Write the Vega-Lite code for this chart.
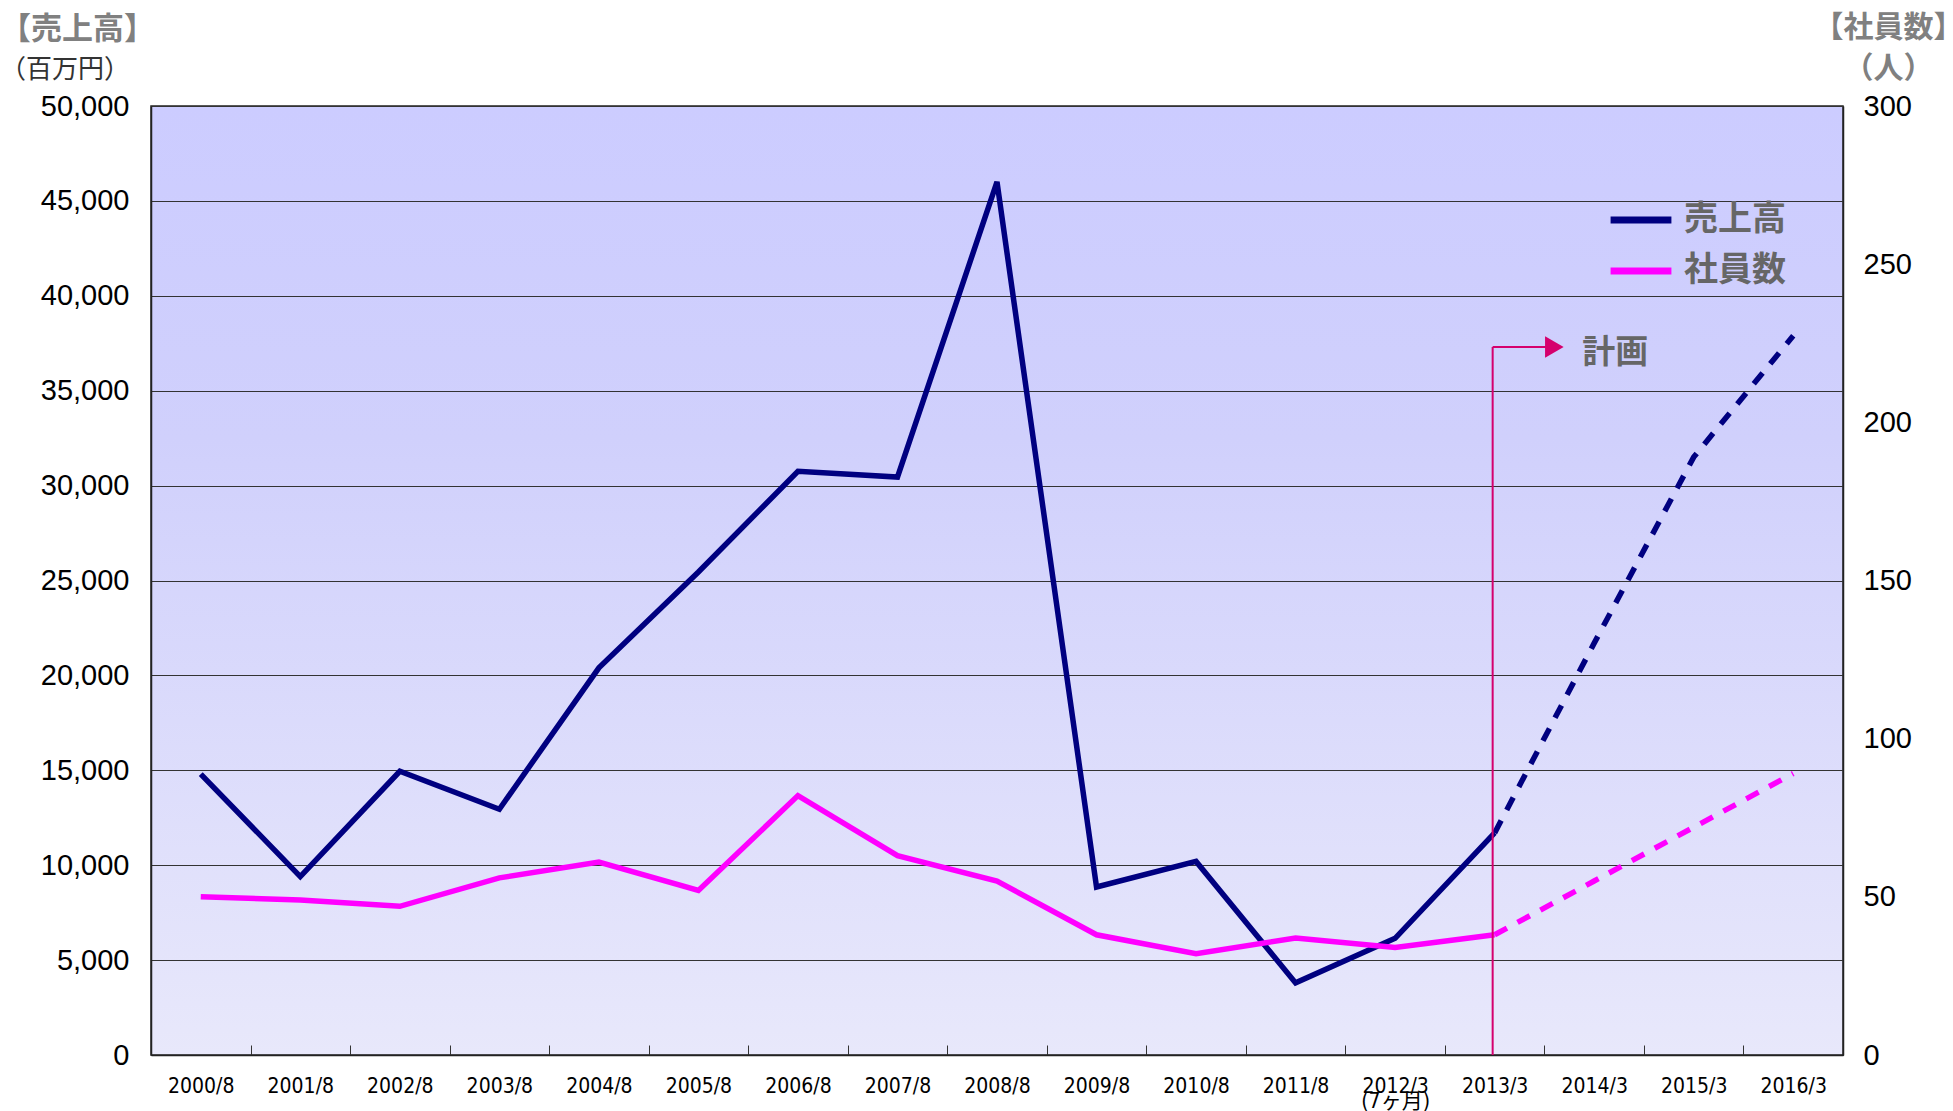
{
  "$schema": "https://vega.github.io/schema/vega-lite/v6.json",
  "width": 1692,
  "height": 949,
  "autosize": "none",
  "padding": {"left": 151, "top": 106, "right": 110, "bottom": 56},
  "background": "white",
  "title": {
    "text": "【売上高】",
    "subtitle": "（百万円）",
    "anchor": "start",
    "frame": "group",
    "dx": -151,
    "dy": 82,
    "font": "Noto Sans CJK JP",
    "fontSize": 31,
    "fontWeight": "bold",
    "color": "#808080",
    "subtitleFont": "Noto Sans CJK JP",
    "subtitleFontSize": 26,
    "subtitleColor": "#333333",
    "subtitlePadding": 11,
    "offset": 10
  },
  "view": {
    "fill": {
      "gradient": "linear",
      "x1": 0, "y1": 0, "x2": 0, "y2": 1,
      "stops": [
        {"offset": 0, "color": "#CCCCFF"},
        {"offset": 0.35, "color": "#D0D0FC"},
        {"offset": 1, "color": "#E8E8FB"}
      ]
    },
    "stroke": "#222222",
    "strokeWidth": 1.5
  },
  "datasets": {
    "main": [
      {"period": "2000/8", "series": "売上高", "value": 14800},
      {"period": "2001/8", "series": "売上高", "value": 9400},
      {"period": "2002/8", "series": "売上高", "value": 14950},
      {"period": "2003/8", "series": "売上高", "value": 12950},
      {"period": "2004/8", "series": "売上高", "value": 20400},
      {"period": "2005/8", "series": "売上高", "value": 25450},
      {"period": "2006/8", "series": "売上高", "value": 30750},
      {"period": "2007/8", "series": "売上高", "value": 30450},
      {"period": "2008/8", "series": "売上高", "value": 46000},
      {"period": "2009/8", "series": "売上高", "value": 8850},
      {"period": "2010/8", "series": "売上高", "value": 10200},
      {"period": "2011/8", "series": "売上高", "value": 3800},
      {"period": "2012/3", "series": "売上高", "value": 6150},
      {"period": "2013/3", "series": "売上高", "value": 11700},
      {"period": "2014/3", "series": "売上高", "value": 21700},
      {"period": "2015/3", "series": "売上高", "value": 31500},
      {"period": "2016/3", "series": "売上高", "value": 37900},
      {"period": "2000/8", "series": "社員数", "value": 50},
      {"period": "2001/8", "series": "社員数", "value": 49},
      {"period": "2002/8", "series": "社員数", "value": 47},
      {"period": "2003/8", "series": "社員数", "value": 56},
      {"period": "2004/8", "series": "社員数", "value": 61},
      {"period": "2005/8", "series": "社員数", "value": 52},
      {"period": "2006/8", "series": "社員数", "value": 82},
      {"period": "2007/8", "series": "社員数", "value": 63},
      {"period": "2008/8", "series": "社員数", "value": 55},
      {"period": "2009/8", "series": "社員数", "value": 38},
      {"period": "2010/8", "series": "社員数", "value": 32},
      {"period": "2011/8", "series": "社員数", "value": 37},
      {"period": "2012/3", "series": "社員数", "value": 34},
      {"period": "2013/3", "series": "社員数", "value": 38},
      {"period": "2014/3", "series": "社員数", "value": 55},
      {"period": "2015/3", "series": "社員数", "value": 72},
      {"period": "2016/3", "series": "社員数", "value": 89}
    ]
  },
  "layer": [
    {
      "data": {"name": "main"},
      "transform": [{"filter": {"field": "series", "equal": "売上高"}}],
      "encoding": {
        "x": {
          "field": "period", "type": "ordinal", "bandPosition": 0.5,
          "scale": {"type": "band", "paddingInner": 0, "paddingOuter": 0,
            "domain": ["2000/8","2001/8","2002/8","2003/8","2004/8","2005/8","2006/8","2007/8","2008/8","2009/8","2010/8","2011/8","2012/3","2013/3","2014/3","2015/3","2016/3"]},
          "axis": {
            "title": null, "grid": false, "tickBand": "extent", "ticks": true,
            "tickSize": -10, "tickColor": "#333333", "tickWidth": 1,
            "domainColor": "#222222", "domainWidth": 1.5,
            "labelAngle": 0, "labelOverlap": false,
            "labelFont": "Liberation Sans Narrow, DejaVu Sans Condensed, Noto Sans CJK JP",
            "labelFontSize": 21, "labelColor": "#000000", "labelPadding": 30,
            "labelBaseline": "top", "labelLineHeight": 15,
            "labelExpr": "datum.value == '2012/3' ? ['2012/3', '(7ヶ月)'] : datum.value"
          }
        },
        "y": {
          "field": "value", "type": "quantitative",
          "scale": {"domain": [0, 50000], "nice": false},
          "axis": {
            "orient": "left", "title": null,
            "values": [0,5000,10000,15000,20000,25000,30000,35000,40000,45000,50000],
            "format": ",.0f", "grid": true, "gridColor": "#333333", "gridWidth": 1,
            "ticks": false, "domain": true, "domainColor": "#222222", "domainWidth": 1.5,
            "labelFont": "Liberation Sans", "labelFontSize": 29, "labelColor": "#000000",
            "labelPadding": 22
          }
        },
        "color": {
          "field": "series", "type": "nominal",
          "scale": {"domain": ["売上高", "社員数"], "range": ["#000080", "#FF00FF"]},
          "legend": {
            "orient": "none", "legendX": 1456, "legendY": 80, "title": null,
            "symbolType": "stroke", "symbolStrokeWidth": 7, "symbolSize": 3700,
            "symbolDash": [],
            "labelFont": "Noto Sans CJK JP", "labelFontSize": 34, "labelFontWeight": "bold",
            "labelColor": "#666666", "rowPadding": -5, "labelOffset": 9
          }
        }
      },
      "layer": [
        {
          "transform": [{"filter": {"field": "period", "oneOf": ["2000/8","2001/8","2002/8","2003/8","2004/8","2005/8","2006/8","2007/8","2008/8","2009/8","2010/8","2011/8","2012/3","2013/3"]}}],
          "mark": {"type": "line", "strokeWidth": 5.5}
        },
        {
          "transform": [{"filter": {"field": "period", "oneOf": ["2013/3","2014/3","2015/3","2016/3"]}}],
          "mark": {"type": "line", "strokeWidth": 5.5, "strokeDash": [14, 12]}
        }
      ]
    },
    {
      "data": {"name": "main"},
      "transform": [{"filter": {"field": "series", "equal": "社員数"}}],
      "encoding": {
        "x": {
          "field": "period", "type": "ordinal", "bandPosition": 0.5,
          "scale": {"type": "band", "paddingInner": 0, "paddingOuter": 0,
            "domain": ["2000/8","2001/8","2002/8","2003/8","2004/8","2005/8","2006/8","2007/8","2008/8","2009/8","2010/8","2011/8","2012/3","2013/3","2014/3","2015/3","2016/3"]},
          "axis": null
        },
        "y": {
          "field": "value", "type": "quantitative",
          "scale": {"domain": [0, 300], "nice": false},
          "axis": {
            "orient": "right",
            "values": [0,50,100,150,200,250,300],
            "grid": false, "ticks": false, "domain": true, "domainColor": "#222222", "domainWidth": 1.5,
            "labelFont": "Liberation Sans", "labelFontSize": 29, "labelColor": "#000000",
            "labelPadding": 20,
            "title": ["【社員数】", "（人）"],
            "titleAngle": 0, "titleAlign": "center", "titleBaseline": "top",
            "titleX": 45, "titleY": -94, "titleLineHeight": 41,
            "titleFont": "Noto Sans CJK JP", "titleFontSize": 30, "titleFontWeight": "bold",
            "titleColor": "#808080"
          }
        },
        "color": {"field": "series", "type": "nominal"}
      },
      "layer": [
        {
          "transform": [{"filter": {"field": "period", "oneOf": ["2000/8","2001/8","2002/8","2003/8","2004/8","2005/8","2006/8","2007/8","2008/8","2009/8","2010/8","2011/8","2012/3","2013/3"]}}],
          "mark": {"type": "line", "strokeWidth": 5.5}
        },
        {
          "transform": [{"filter": {"field": "period", "oneOf": ["2013/3","2014/3","2015/3","2016/3"]}}],
          "mark": {"type": "line", "strokeWidth": 5.5, "strokeDash": [14, 12]}
        }
      ]
    },
    {
      "data": {"values": [
        {"part": "line", "x": 13.48, "y": 0, "x2": 13.48, "y2": 37300},
        {"part": "line", "x": 13.48, "y": 37300, "x2": 14.05, "y2": 37300},
        {"part": "head", "x": 14.1, "y": 37300},
        {"part": "label", "x": 14.38, "y": 37000, "text": "計画"}
      ]},
      "encoding": {
        "x": {"field": "x", "type": "quantitative", "scale": {"domain": [0, 17], "nice": false, "zero": false}, "axis": null},
        "y": {"field": "y", "type": "quantitative", "scale": {"domain": [0, 50000], "nice": false}, "axis": null}
      },
      "layer": [
        {
          "transform": [{"filter": "datum.part == 'line'"}],
          "mark": {"type": "rule", "color": "#D5006D", "strokeWidth": 2},
          "encoding": {"x2": {"field": "x2"}, "y2": {"field": "y2"}}
        },
        {
          "transform": [{"filter": "datum.part == 'head'"}],
          "mark": {"type": "point", "shape": "triangle-right", "filled": true, "color": "#D5006D", "size": 460, "opacity": 1}
        },
        {
          "transform": [{"filter": "datum.part == 'label'"}],
          "mark": {"type": "text", "align": "left", "baseline": "middle", "font": "Noto Sans CJK JP", "fontSize": 33, "fontWeight": "bold", "color": "#666666"},
          "encoding": {"text": {"field": "text"}}
        }
      ]
    }
  ],
  "resolve": {"scale": {"x": "independent", "y": "independent"}},
  "config": {"font": "Noto Sans CJK JP"}
}
